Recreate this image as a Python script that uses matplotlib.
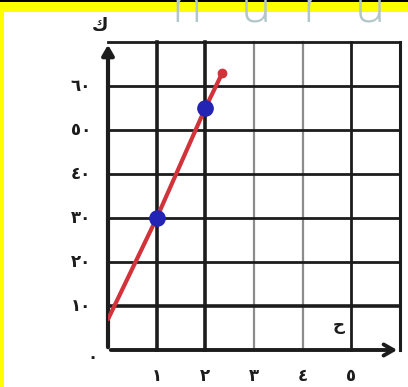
import matplotlib
matplotlib.use("Agg")
import matplotlib.pyplot as plt
from matplotlib.patches import Rectangle

# graph data
x_ticks = [1, 2, 3, 4, 5]
x_labels = ["١", "٢", "٣", "٤", "٥"]
y_ticks = [0, 10, 20, 30, 40, 50, 60]
y_labels = ["٠", "١٠", "٢٠", "٣٠", "٤٠", "٥٠", "٦٠"]
line_x = [0, 1, 2, 2.35]
line_y = [7, 30, 55, 63]
point_x = [1, 2]
point_y = [30, 55]

INK = "#1c1c1c"
PALE = "#8c8c8c"
RED = "#d2333a"
BLUE = "#2323b4"

W, H = 408, 387
fig = plt.figure(figsize=(W / 100, H / 100), dpi=100)
fig.patch.set_facecolor("white")

# page frame: yellow strip on top and left, thin rule along the top
fig.patches.append(Rectangle((0, 1 - 12 / H), 1, 12 / H, transform=fig.transFigure,
                             facecolor="#ffff00", edgecolor="none", zorder=0))
fig.patches.append(Rectangle((0, 0), 3.5 / W, 1, transform=fig.transFigure,
                             facecolor="#ffff00", edgecolor="none", zorder=0))
fig.patches.append(Rectangle((0, 1 - 2 / H), 1, 2 / H, transform=fig.transFigure,
                             facecolor="black", edgecolor="none", zorder=1))
for lx, ch in zip([187, 256, 312, 370], ["n", "u", "r", "u"]):
    fig.text(lx / W, 1 - 22 / H, ch, fontsize=37, color="#b3c6ca", ha="center",
             va="baseline", family="Open Sans", fontweight="light", zorder=2)

ax = fig.add_axes([108 / W, 1 - 350 / H, (400 - 108) / W, (350 - 42) / H])
ax.set_xlim(0, 6)
ax.set_ylim(0, 70)
for s in ax.spines.values():
    s.set_visible(False)
ax.set_xticks([])
ax.set_yticks([])

# grid, drawn by hand so some lines are heavier than others
v_styles = {1: (INK, 2.6), 2: (INK, 2.6), 3: (PALE, 1.6), 4: (PALE, 1.6), 5: (INK, 2.0), 6: (INK, 2.2)}
for xv, (c, lw) in v_styles.items():
    ax.plot([xv, xv], [0, 70], color=c, lw=lw, clip_on=False, zorder=1)
for yv in [10, 20, 30, 40, 50, 60, 70]:
    lw = 2.6 if yv == 10 else 2.0
    ax.plot([0, 6], [yv, yv], color=INK, lw=lw, clip_on=False, zorder=1)

# axes with arrow heads
ax.annotate("", xy=(0, 70), xytext=(0, 0),
            arrowprops=dict(arrowstyle="-|>,head_length=0.6,head_width=0.35", color=INK, lw=3),
            zorder=3, annotation_clip=False)
ax.annotate("", xy=(6, 0), xytext=(0, 0),
            arrowprops=dict(arrowstyle="->,head_length=0.7,head_width=0.4", color=INK, lw=2.8),
            zorder=3, annotation_clip=False)

ax.plot(line_x, line_y, color=RED, lw=3, solid_capstyle="round", zorder=4)
ax.plot(line_x[-1:], line_y[-1:], "o", color=RED, ms=6, zorder=4)
ax.plot(point_x, point_y, "o", color=BLUE, ms=11, zorder=5)

for xv, lab in zip(x_ticks, x_labels):
    ax.text(xv, -5.8, lab, ha="center", va="center", fontsize=12, fontweight="bold",
            color=INK, family="DejaVu Sans")
for yv, lab in zip(y_ticks, y_labels):
    if yv == 0:
        ax.text(-0.33, -1.5, lab, ha="center", va="center", fontsize=12, fontweight="bold",
                color=INK, family="DejaVu Sans")
    else:
        ax.text(-0.35, yv, lab, ha="right", va="center", fontsize=12, fontweight="bold",
                color=INK, family="DejaVu Sans")

ax.text(-0.16, 73.6, "ك", ha="center", va="center", fontsize=13, fontweight="bold",
        color=INK, family="DejaVu Sans", clip_on=False)
ax.text(4.75, 5.6, "ح", ha="center", va="center", fontsize=12, fontweight="bold",
        color=INK, family="DejaVu Sans")

fig.savefig("out.png", dpi=100, facecolor="white")
